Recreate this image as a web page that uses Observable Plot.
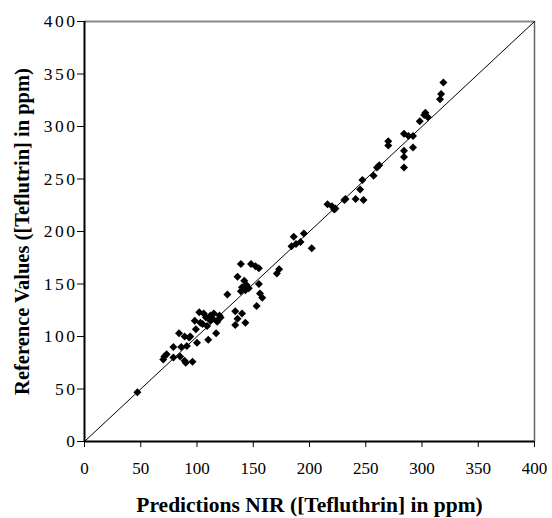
<!DOCTYPE html>
<html>
<head>
<meta charset="utf-8">
<script src="https://cdn.jsdelivr.net/npm/d3@7"></script>
<script src="https://cdn.jsdelivr.net/npm/@observablehq/plot@0.6"></script>
<style>
  body { margin: 0; background: #fff; }
  #chart svg { font-family: "Liberation Serif", "Times New Roman", serif; }
  [aria-label="y-axis label"] text { font-weight: bold; font-size: 20.5px; }
  [aria-label="x-axis label"] text { font-weight: bold; font-size: 21.5px; }
  [aria-label="y-axis tick label"] text { letter-spacing: 2.5px; }
</style>
</head>
<body>
<div id="chart"></div>
<script>
const predicted = [47,70,71,73,79,79,84,85,86,89,90,89,91,94,96,93,100,98,99,102,103,106,110,109,112,115,117,118,120,121,118,112,108,114,105,
  127,134,140,136,134,143,139,148,152,155,136,142,140,143,146,139,155,156,158,153,144,
  171,173,184,186,188,192,195,202,216,220,223,222,231,232,241,248,245,247,257,260,262,
  270,270,284,288,292,292,284,284,284,298,302,303,305,316,317,319];
const reference = [47,78,81,83,80,90,103,81,90,100,75,77,91,100,76,99,94,115,107,123,113,122,97,110,115,122,103,115,120,118,114,120,118,117,112,
  140,124,122,117,111,113,169,169,167,165,157,153,147,144,146,143,150,141,137,129,149,
  160,164,186,195,188,190,198,184,226,224,222,221,230,231,231,230,240,249,253,261,263,
  286,282,293,291,291,280,277,271,261,305,311,313,309,326,331,342];
const ticks = [0,50,100,150,200,250,300,350,400];
const diagonal = [0, 400];

const points = predicted.map((p, i) => ({p, r: reference[i]}));

const chart = Plot.plot({
  width: 552,
  height: 518,
  marginLeft: 84,
  marginRight: 18,
  marginTop: 21,
  marginBottom: 77,
  style: {fontSize: "17px", fontFamily: "Liberation Serif, serif", color: "#000"},
  x: {domain: [0, 400]},
  y: {domain: [0, 400]},
  marks: [
    Plot.ruleY([400], {stroke: "#888", strokeWidth: 2}),
    Plot.ruleX([400], {stroke: "#666", strokeWidth: 1.5}),
    Plot.line(diagonal.map(v => ({v})), {x: "v", y: "v", stroke: "#000", strokeWidth: 1}),
    Plot.dot(points, {x: "p", y: "r", symbol: "diamond2", r: 3.6, fill: "#000", stroke: "none"}),
    Plot.axisX({ticks, tickSize: 6, tickPadding: 14, fontSize: 17, tickFormat: d => d, label: "Predictions NIR ([Tefluthrin] in ppm)", labelAnchor: "center", labelArrow: "none", labelOffset: 70, stroke: "#000"}),
    Plot.axisY({ticks, tickSize: 7, tickPadding: 0, fontSize: 17.5, tickFormat: d => d, label: "Reference Values ([Teflutrin] in ppm)", labelAnchor: "center", labelArrow: "none", labelOffset: 70, stroke: "#000"}),
    Plot.ruleX([0], {stroke: "#000", strokeWidth: 2}),
    Plot.ruleY([0], {stroke: "#000", strokeWidth: 2})
  ]
});
document.getElementById("chart").appendChild(chart);
</script>
</body>
</html>
